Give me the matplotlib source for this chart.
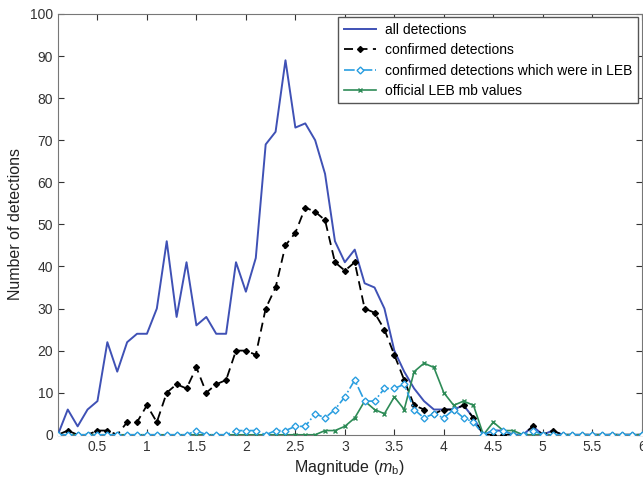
#!/usr/bin/env python3
import numpy as np
import matplotlib.pyplot as plt

plt.rcParams["font.family"] = ["Liberation Sans", "DejaVu Sans"]
plt.rcParams["mathtext.fontset"] = "custom"
plt.rcParams["mathtext.it"] = "Liberation Sans:italic"
plt.rcParams["mathtext.rm"] = "Liberation Sans"

# magnitude bins, 0.1 .. 6.0
mag = np.round(np.arange(1, 61) * 0.1, 1)

all_det = [0, 6, 2, 6, 8, 22, 15, 22, 24, 24,
           30, 46, 28, 41, 26, 28, 24, 24, 41, 34,
           42, 69, 72, 89, 73, 74, 70, 62, 46, 41,
           44, 36, 35, 30, 20, 15, 11, 8, 6, 6,
           6, 7, 4, 0, 1, 1, 0, 0, 2, 0,
           1, 0, 0, 0, 0, 0, 0, 0, 0, 0]
confirmed = [0, 1, 0, 0, 1, 1, 0, 3, 3, 7,
             3, 10, 12, 11, 16, 10, 12, 13, 20, 20,
             19, 30, 35, 45, 48, 54, 53, 51, 41, 39,
             41, 30, 29, 25, 19, 13, 7, 6, 5, 6,
             6, 7, 4, 0, 0, 0, 0, 0, 2, 0,
             1, 0, 0, 0, 0, 0, 0, 0, 0, 0]
conf_leb = [0, 0, 0, 0, 0, 0, 0, 0, 0, 0,
            0, 0, 0, 0, 1, 0, 0, 0, 1, 1,
            1, 0, 1, 1, 2, 2, 5, 4, 6, 9,
            13, 8, 8, 11, 11, 12, 6, 4, 5, 4,
            6, 4, 3, 0, 1, 1, 0, 0, 1, 0,
            0, 0, 0, 0, 0, 0, 0, 0, 0, 0]
leb_mb = [0, 0, 0, 0, 0, 0, 0, 0, 0, 0,
          0, 0, 0, 0, 0, 0, 0, 0, 0, 0,
          0, 0, 0, 0, 0, 0, 0, 1, 1, 2,
          4, 8, 6, 5, 9, 6, 15, 17, 16, 10,
          7, 8, 7, 0, 3, 1, 1, 0, 0, 0,
          0, 0, 0, 0, 0, 0, 0, 0, 0, 0]

fig = plt.figure(figsize=(6.43, 4.82), dpi=100)
ax = fig.add_axes([0.090, 0.098, 0.908, 0.873])

ax.plot(mag, all_det, color="#3f51b5", lw=1.4, label="all detections", zorder=3)
ax.plot(mag, confirmed, color="black", lw=1.3, ls=(0, (5, 3)), marker="D", ms=3,
        label="confirmed detections", zorder=4)
ax.plot(mag, conf_leb, color="#2a9ee0", lw=1.2, ls="-.", marker="D", ms=3.5,
        mfc="white", mec="#2a9ee0", label="confirmed detections which were in LEB", zorder=5)
ax.plot(mag, leb_mb, color="#2e8b57", lw=1.2, marker="x", ms=3,
        label="official LEB mb values", zorder=4)

ax.set_xlim(0.1, 6)
ax.set_ylim(0, 100)
ax.set_xticks(np.arange(0.5, 6.01, 0.5))
ax.set_xticklabels(["0.5", "1", "1.5", "2", "2.5", "3", "3.5", "4", "4.5", "5", "5.5", "6"])
ax.set_yticks(np.arange(0, 101, 10))
ax.tick_params(direction="in", top=True, right=True, labelsize=10, length=4, colors="#333333")
for s in ax.spines.values():
    s.set_color("#777777")
ax.set_xlabel(r"Magnitude ($m_\mathrm{b}$)", fontsize=11.5, color="#222222", labelpad=3)
ax.set_ylabel("Number of detections", fontsize=11.5, color="#222222", labelpad=5)

leg = ax.legend(loc="upper right", fontsize=10, borderaxespad=0.25, handlelength=2.3,
                handletextpad=0.7, labelspacing=0.45, fancybox=False, framealpha=1,
                borderpad=0.4)
leg.get_frame().set_edgecolor("#555555")
leg.get_frame().set_linewidth(1.0)

fig.savefig("out.png", dpi=100)
